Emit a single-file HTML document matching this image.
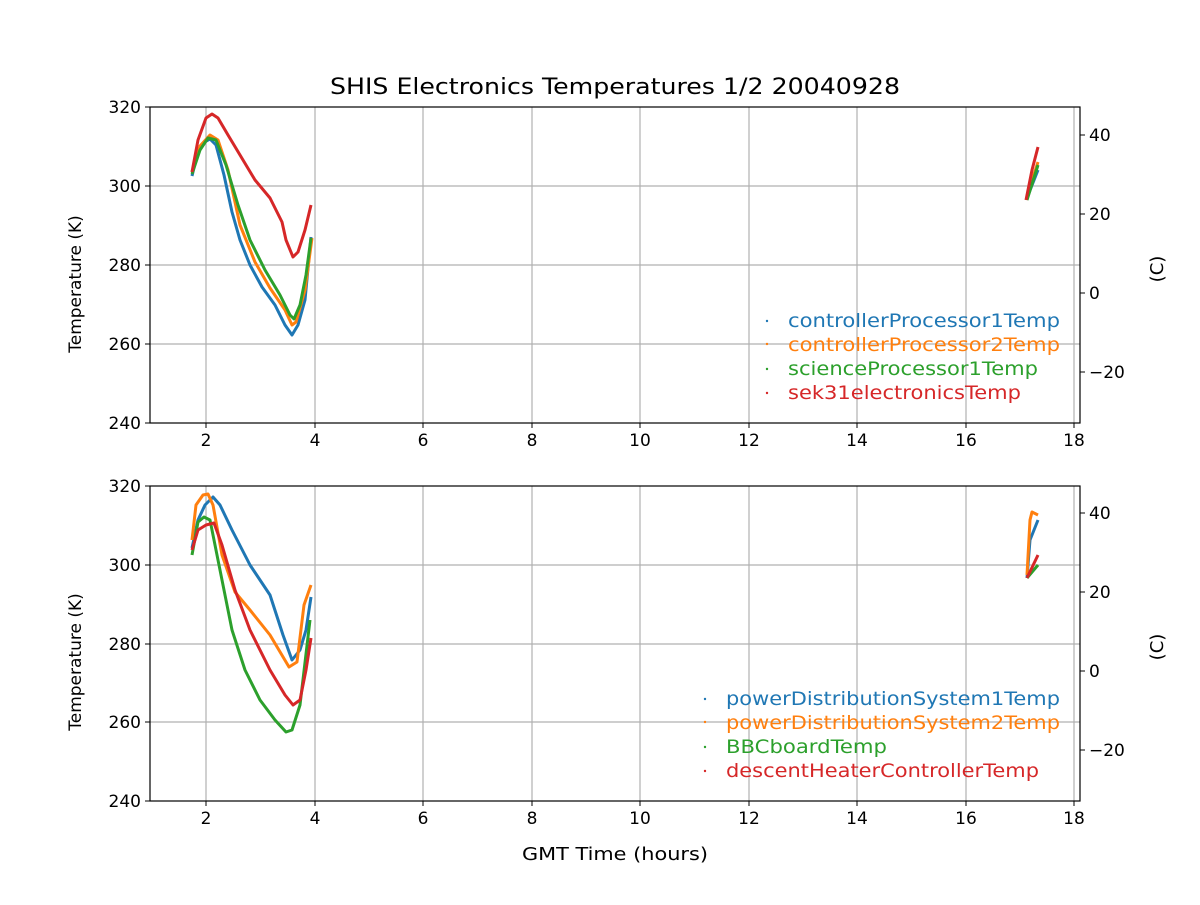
<!DOCTYPE html>
<html><head><meta charset="utf-8"><style>body{margin:0;background:#fff}</style></head><body>
<svg width="1200" height="900" xmlns="http://www.w3.org/2000/svg" font-family="'DejaVu Sans','Liberation Sans',sans-serif" font-size="17">
<rect width="1200" height="900" fill="#fff"/>
<text x="330" y="94" textLength="570" lengthAdjust="spacingAndGlyphs" font-size="22">SHIS Electronics Temperatures 1/2 20040928</text>
<g stroke="#b0b0b0" stroke-width="1.2">
<line x1="206" y1="107" x2="206" y2="423"/><line x1="315" y1="107" x2="315" y2="423"/><line x1="423" y1="107" x2="423" y2="423"/><line x1="532" y1="107" x2="532" y2="423"/><line x1="640" y1="107" x2="640" y2="423"/><line x1="749" y1="107" x2="749" y2="423"/><line x1="857" y1="107" x2="857" y2="423"/><line x1="966" y1="107" x2="966" y2="423"/><line x1="1074" y1="107" x2="1074" y2="423"/>
<line x1="150" y1="186" x2="1080" y2="186"/><line x1="150" y1="265" x2="1080" y2="265"/><line x1="150" y1="344" x2="1080" y2="344"/>
<line x1="206" y1="486" x2="206" y2="801"/><line x1="315" y1="486" x2="315" y2="801"/><line x1="423" y1="486" x2="423" y2="801"/><line x1="532" y1="486" x2="532" y2="801"/><line x1="640" y1="486" x2="640" y2="801"/><line x1="749" y1="486" x2="749" y2="801"/><line x1="857" y1="486" x2="857" y2="801"/><line x1="966" y1="486" x2="966" y2="801"/><line x1="1074" y1="486" x2="1074" y2="801"/>
<line x1="150" y1="565" x2="1080" y2="565"/><line x1="150" y1="644" x2="1080" y2="644"/><line x1="150" y1="722" x2="1080" y2="722"/>
</g>
<g fill="none" stroke-width="3" stroke-linejoin="round">
<polyline stroke="#1f77b4" points="192,176 197,155 203,143 210,139 216,145 224,175 232,212 240,240 250,265 262,287 275,305 285,325 292,335 298,325 305,300 311,237"/>
<polyline stroke="#ff7f0e" points="192,172 200,146 210,135 218,140 228,170 240,225 255,262 270,288 285,310 292,325 296,322 305,290 312,238"/>
<polyline stroke="#2ca02c" points="192,174 200,150 208,138 216,140 226,165 238,205 250,240 265,270 280,295 290,315 294,319 300,305 306,275 311,238"/>
<polyline stroke="#d62728" points="192,172 198,140 206,118 212,114 218,118 228,135 240,155 255,180 270,198 282,222 286,240 293,257 298,252 305,230 311,205"/>
<polyline stroke="#1f77b4" points="1027,198 1038,170"/>
<polyline stroke="#ff7f0e" points="1027,196 1038,162"/>
<polyline stroke="#2ca02c" points="1027,200 1038,165"/>
<polyline stroke="#d62728" points="1026,200 1032,170 1038,147"/>
<polyline stroke="#1f77b4" points="192,548 198,520 205,505 213,497 220,505 232,530 250,565 270,595 283,635 292,660 300,650 306,630 311,597"/>
<polyline stroke="#ff7f0e" points="192,540 196,505 203,495 208,494 213,505 222,555 235,592 250,610 270,635 289,667 297,662 304,605 311,585"/>
<polyline stroke="#2ca02c" points="192,555 198,522 204,517 210,520 220,570 232,630 245,670 260,700 275,720 286,732 292,730 300,705 310,620"/>
<polyline stroke="#d62728" points="192,550 198,530 206,525 214,523 222,545 235,590 250,630 270,670 285,695 293,705 300,700 306,670 311,638"/>
<polyline stroke="#1f77b4" points="1027,578 1030,540 1038,520"/>
<polyline stroke="#ff7f0e" points="1027,575 1030,520 1032,512 1038,515"/>
<polyline stroke="#2ca02c" points="1027,578 1038,565"/>
<polyline stroke="#d62728" points="1027,578 1038,555"/>
</g>
<g fill="none" stroke="#000" stroke-width="1.2">
<rect x="150" y="107" width="930" height="316"/><rect x="150" y="486" width="930" height="315"/>
</g>
<g stroke="#000" stroke-width="1">
<line x1="206" y1="423" x2="206" y2="428"/><line x1="315" y1="423" x2="315" y2="428"/><line x1="423" y1="423" x2="423" y2="428"/><line x1="532" y1="423" x2="532" y2="428"/><line x1="640" y1="423" x2="640" y2="428"/><line x1="749" y1="423" x2="749" y2="428"/><line x1="857" y1="423" x2="857" y2="428"/><line x1="966" y1="423" x2="966" y2="428"/><line x1="1074" y1="423" x2="1074" y2="428"/>
<line x1="206" y1="801" x2="206" y2="806"/><line x1="315" y1="801" x2="315" y2="806"/><line x1="423" y1="801" x2="423" y2="806"/><line x1="532" y1="801" x2="532" y2="806"/><line x1="640" y1="801" x2="640" y2="806"/><line x1="749" y1="801" x2="749" y2="806"/><line x1="857" y1="801" x2="857" y2="806"/><line x1="966" y1="801" x2="966" y2="806"/><line x1="1074" y1="801" x2="1074" y2="806"/>
<line x1="145" y1="107" x2="150" y2="107"/><line x1="145" y1="186" x2="150" y2="186"/><line x1="145" y1="265" x2="150" y2="265"/><line x1="145" y1="344" x2="150" y2="344"/><line x1="145" y1="423" x2="150" y2="423"/>
<line x1="145" y1="486" x2="150" y2="486"/><line x1="145" y1="565" x2="150" y2="565"/><line x1="145" y1="644" x2="150" y2="644"/><line x1="145" y1="722" x2="150" y2="722"/><line x1="145" y1="801" x2="150" y2="801"/>
<line x1="1080" y1="135" x2="1085" y2="135"/><line x1="1080" y1="214" x2="1085" y2="214"/><line x1="1080" y1="293" x2="1085" y2="293"/><line x1="1080" y1="372" x2="1085" y2="372"/>
<line x1="1080" y1="513" x2="1085" y2="513"/><line x1="1080" y1="592" x2="1085" y2="592"/><line x1="1080" y1="671" x2="1085" y2="671"/><line x1="1080" y1="750" x2="1085" y2="750"/>
</g>
<g text-anchor="middle">
<text x="206" y="446">2</text><text x="315" y="446">4</text><text x="423" y="446">6</text><text x="532" y="446">8</text><text x="640" y="446">10</text><text x="749" y="446">12</text><text x="857" y="446">14</text><text x="966" y="446">16</text><text x="1074" y="446">18</text>
<text x="206" y="824">2</text><text x="315" y="824">4</text><text x="423" y="824">6</text><text x="532" y="824">8</text><text x="640" y="824">10</text><text x="749" y="824">12</text><text x="857" y="824">14</text><text x="966" y="824">16</text><text x="1074" y="824">18</text>
</g>
<text x="522" y="860" font-size="18" textLength="186" lengthAdjust="spacingAndGlyphs">GMT Time (hours)</text>
<g text-anchor="end">
<text x="141" y="113">320</text><text x="141" y="192">300</text><text x="141" y="271">280</text><text x="141" y="350">260</text><text x="141" y="429">240</text>
<text x="141" y="492">320</text><text x="141" y="571">300</text><text x="141" y="650">280</text><text x="141" y="728">260</text><text x="141" y="807">240</text>
</g>
<g>
<text x="1089" y="141">40</text><text x="1089" y="220">20</text><text x="1089" y="299">0</text><text x="1089" y="378">−20</text>
<text x="1089" y="519">40</text><text x="1089" y="598">20</text><text x="1089" y="677">0</text><text x="1089" y="756">−20</text>
</g>
<text transform="translate(81,284) rotate(-90)" text-anchor="middle" font-size="17">Temperature (K)</text>
<text transform="translate(81,662) rotate(-90)" text-anchor="middle" font-size="17">Temperature (K)</text>
<text transform="translate(1163,269) rotate(-90)" text-anchor="middle" font-size="18">(C)</text>
<text transform="translate(1163,647) rotate(-90)" text-anchor="middle" font-size="18">(C)</text>
<g font-size="19" lengthAdjust="spacingAndGlyphs">
<circle cx="767" cy="321" r="1.2" fill="#1f77b4"/><text x="788" y="327" fill="#1f77b4" textLength="272" lengthAdjust="spacingAndGlyphs">controllerProcessor1Temp</text>
<circle cx="767" cy="344" r="1.2" fill="#ff7f0e"/><text x="788" y="351" fill="#ff7f0e" textLength="272" lengthAdjust="spacingAndGlyphs">controllerProcessor2Temp</text>
<circle cx="767" cy="369" r="1.2" fill="#2ca02c"/><text x="788" y="375" fill="#2ca02c" textLength="250" lengthAdjust="spacingAndGlyphs">scienceProcessor1Temp</text>
<circle cx="767" cy="393" r="1.2" fill="#d62728"/><text x="788" y="399" fill="#d62728" textLength="233" lengthAdjust="spacingAndGlyphs">sek31electronicsTemp</text>
<circle cx="705" cy="699" r="1.2" fill="#1f77b4"/><text x="726" y="705" fill="#1f77b4" textLength="334" lengthAdjust="spacingAndGlyphs">powerDistributionSystem1Temp</text>
<circle cx="705" cy="722" r="1.2" fill="#ff7f0e"/><text x="726" y="729" fill="#ff7f0e" textLength="334" lengthAdjust="spacingAndGlyphs">powerDistributionSystem2Temp</text>
<circle cx="705" cy="747" r="1.2" fill="#2ca02c"/><text x="726" y="753" fill="#2ca02c" textLength="161" lengthAdjust="spacingAndGlyphs">BBCboardTemp</text>
<circle cx="705" cy="771" r="1.2" fill="#d62728"/><text x="726" y="777" fill="#d62728" textLength="313" lengthAdjust="spacingAndGlyphs">descentHeaterControllerTemp</text>
</g>
</svg>
</body></html>
